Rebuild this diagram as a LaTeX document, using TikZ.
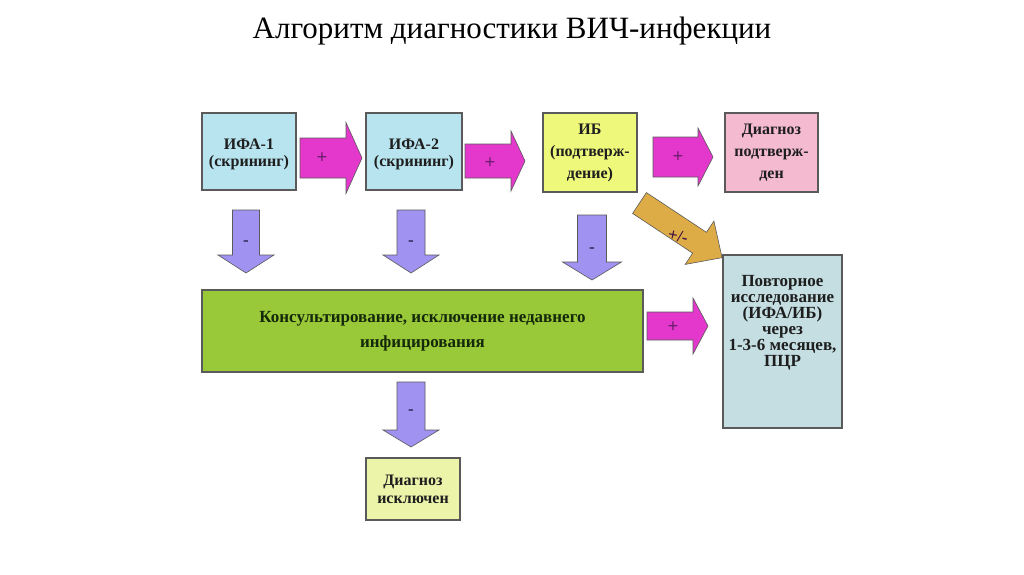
\documentclass[tikz,border=0pt]{standalone}
\usepackage{fontspec}
\setmainfont{Liberation Serif}
\usetikzlibrary{calc}
\definecolor{bluebox}{RGB}{183,228,238}
\definecolor{yellowbox}{RGB}{238,248,122}
\definecolor{pinkbox}{RGB}{243,186,208}
\definecolor{greenbox}{RGB}{153,201,56}
\definecolor{tealbox}{RGB}{196,222,226}
\definecolor{paleyellow}{RGB}{236,244,170}
\definecolor{magarrow}{RGB}{228,56,204}
\definecolor{purparrow}{RGB}{160,146,240}
\definecolor{goldarrow}{RGB}{222,172,70}
\definecolor{edgegray}{RGB}{90,90,90}
\definecolor{txt}{RGB}{30,30,30}
\definecolor{greentxt}{RGB}{20,40,10}
\definecolor{plustxt}{RGB}{110,30,110}
\definecolor{minustxt}{RGB}{40,40,90}
\newcommand\blockarr[8]{%
  \draw[#1, shift={(#2,#3)}, rotate=#4] (0,-#6) -- ({#5-#8},-#6) -- ({#5-#8},-#7) -- (#5,0) -- ({#5-#8},#7) -- ({#5-#8},#6) -- (0,#6) -- cycle;}
\tikzset{
  box/.style={draw=edgegray, line width=1.2pt, inner sep=2pt, align=center,
    font=\bfseries\fontsize{16}{17}\selectfont, text=txt},
  magA/.style={fill=magarrow, draw=edgegray, line width=0.6pt},
  purA/.style={fill=purparrow, draw=edgegray, line width=0.6pt},
  goldA/.style={fill=goldarrow, draw=edgegray, line width=0.6pt},
  plbl/.style={font=\bfseries\fontsize{19}{20}\selectfont, text=plustxt, inner sep=0pt},
  mlbl/.style={font=\bfseries\fontsize{17}{20}\selectfont, text=minustxt, inner sep=0pt},
}
\begin{document}
\begin{tikzpicture}[x=1pt,y=-1pt]
\useasboundingbox (0,0) rectangle (1024,574);
\fill[white] (0,0) rectangle (1024,574);
\node (title) at (512,31) {\fontsize{31}{34}\selectfont Алгоритм диагностики ВИЧ-инфекции};
% boxes
\node[box, fill=bluebox, minimum width=94pt, minimum height=77pt] (ifa1) at (249,151.5) {\rule{0pt}{8pt}\\[-8pt]ИФА-1\\(скрининг)};
\node[box, fill=bluebox, minimum width=96pt, minimum height=77pt] (ifa2) at (414,151.5) {\rule{0pt}{8pt}\\[-8pt]ИФА-2\\(скрининг)};
\node[box, fill=yellowbox, minimum width=94pt, minimum height=79pt, font=\bfseries\fontsize{16}{22}\selectfont] (ib) at (590,152.5) {ИБ\\(подтверж-\\дение)};
\node[box, fill=pinkbox, minimum width=93pt, minimum height=79pt, font=\bfseries\fontsize{16}{22}\selectfont] (dp) at (771.5,152.5) {Диагноз\\подтверж-\\ден};
\node[box, fill=greenbox, text=greentxt, minimum width=441pt, minimum height=82pt, font=\bfseries\fontsize{17}{25}\selectfont] (cons) at (422.5,331) {Консультирование, исключение недавнего\\инфицирования};
\node[box, fill=tealbox, minimum width=119pt, minimum height=173pt,
  label={[align=center, text=txt, font=\bfseries\fontsize{17}{16}\selectfont, yshift=19pt]center:Повторное\\исследование\\(ИФА/ИБ)\\через\\1-3-6 месяцев,\\ПЦР}] (rep) at (782.5,341.5) {};
\node[box, fill=paleyellow, minimum width=94pt, minimum height=62pt, font=\bfseries\fontsize{16}{18}\selectfont] (dx) at (413,489) {Диагноз\\исключен};
% arrows
\blockarr{magA}{300}{158}{0}{62}{20}{35.5}{16}
\blockarr{magA}{465}{161}{0}{60}{17}{30}{14}
\blockarr{magA}{653}{157}{0}{60}{20}{29}{15}
\blockarr{magA}{647}{326}{0}{61}{14}{28}{15}
\blockarr{purA}{246}{210}{-90}{63}{13.5}{28}{18}
\blockarr{purA}{411}{210}{-90}{63}{14}{28}{18}
\blockarr{purA}{592}{215}{-90}{65}{14.5}{29.5}{18}
\blockarr{purA}{411}{382}{-90}{65}{14}{28}{17}
\blockarr{goldA}{639.5}{203}{-33.5}{99}{12.5}{26}{27}
% labels
\node[plbl] (p1) at (322,158) {+};
\node[plbl] (p2) at (490,163) {+};
\node[plbl] (p3) at (678,157) {+};
\node[plbl] (p4) at (673,327) {+};
\node[mlbl] (m1) at (246,243) {-};
\node[mlbl] (m2) at (411,243) {-};
\node[mlbl] (m3) at (592,250) {-};
\node[mlbl] (m4) at (411,412) {-};
\node[mlbl, text=plustxt!60!black, rotate=-12] (pm) at (678,236) {+/-};
\end{tikzpicture}
\end{document}
